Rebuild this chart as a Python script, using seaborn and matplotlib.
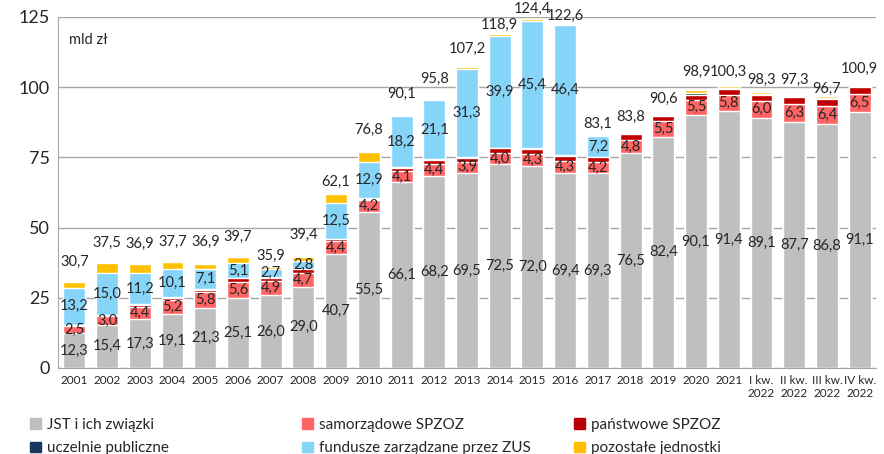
import numpy as np
import pandas as pd
import matplotlib
matplotlib.use("Agg")
import matplotlib.pyplot as plt
from matplotlib.patches import Patch
import seaborn as sns

# categories
years = [str(y) for y in range(2001, 2022)] + ["I kw.\n2022", "II kw.\n2022", "III kw.\n2022", "IV kw.\n2022"]

# mld zł
jst = [12.3, 15.4, 17.3, 19.1, 21.3, 25.1, 26.0, 29.0, 40.7, 55.5, 66.1, 68.2, 69.5, 72.5, 72.0, 69.4,
       69.3, 76.5, 82.4, 90.1, 91.4, 89.1, 87.7, 86.8, 91.1]
samorz = [2.5, 3.0, 4.4, 5.2, 5.8, 5.6, 4.9, 4.7, 4.4, 4.2, 4.1, 4.4, 3.9, 4.0, 4.3, 4.3,
          4.2, 4.8, 5.5, 5.5, 5.8, 6.0, 6.3, 6.4, 6.5]
panstw = [0.5, 0.4, 0.7, 0.8, 0.8, 1.2, 1.3, 1.4, 0.8, 0.6, 1.0, 1.3, 1.3, 1.8, 1.6, 1.8,
          1.6, 1.9, 2.0, 1.8, 2.2, 2.3, 2.4, 2.6, 2.6]
uczelnie = [0.1, 0.1, 0.3, 0.2, 0.2, 0.3, 0.3, 0.3, 0.2, 0.2, 0.3, 0.5, 0.6, 0.2, 0.4, 0.2,
            0.2, 0.1, 0.2, 0.5, 0.2, 0.3, 0.3, 0.4, 0.1]
zus = [13.2, 15.0, 11.2, 10.1, 7.1, 5.1, 2.7, 2.8, 12.5, 12.9, 18.2, 21.1, 31.3, 39.9, 45.4, 46.4,
       7.2, 0, 0, 0, 0, 0, 0, 0, 0]
totals = [30.7, 37.5, 36.9, 37.7, 36.9, 39.7, 35.9, 39.4, 62.1, 76.8, 90.1, 95.8, 107.2, 118.9, 124.4, 122.6,
          83.1, 83.8, 90.6, 98.9, 100.3, 98.3, 97.3, 96.7, 100.9]

# pozostałe = reszta do sumy
pozostale = [round(t - (a + b + c + d + e), 1) for t, a, b, c, d, e in zip(totals, jst, samorz, panstw, uczelnie, zus)]

# label offsets above bars (pixels), as placed in the original
top_off = [20, 20, 20, 20, 22, 20, 11, 22, 12, 22, 21, 20, 18, 9, 10, 8,
           11, 16, 15, 18, 14, 12, 15, 8, 16]

series = [
    ("JST i ich związki", jst, "#BFBFBF"),
    ("samorządowe SPZOZ", samorz, "#FF6565"),
    ("państwowe SPZOZ", panstw, "#C00000"),
    ("uczelnie publiczne", uczelnie, "#17375E"),
    ("fundusze zarządzane przez ZUS", zus, "#87D4F9"),
    ("pozostałe jednostki", pozostale, "#FFC000"),
]

sns.set_style("white")
plt.rcParams["font.family"] = ["Lato", "DejaVu Sans"]

fig = plt.figure(figsize=(8.84, 4.54), dpi=100)
ax = fig.add_axes([58 / 884, 1 - 368 / 454, 818 / 884, 351 / 454])

cum = np.cumsum(np.array([s[1] for s in series]), axis=0)
# draw from the top layer down so lower layers cover upper ones
for i in range(len(series) - 1, -1, -1):
    sns.barplot(x=years, y=cum[i], color=series[i][2], saturation=1, width=0.67, ax=ax, zorder=3)

fmt = lambda v: f"{v:.1f}".replace(".", ",")
fs = 10.5
for i in range(len(years)):
    ax.text(i, jst[i] / 2, fmt(jst[i]), ha="center", va="center", fontsize=fs, zorder=5)
    ax.text(i, jst[i] + samorz[i] / 2, fmt(samorz[i]), ha="center", va="center", fontsize=fs, zorder=5)
    if zus[i] > 0:
        b = jst[i] + samorz[i] + panstw[i] + uczelnie[i]
        ax.text(i, b + zus[i] / 2, fmt(zus[i]), ha="center", va="center", fontsize=fs, zorder=5)
    ax.annotate(fmt(totals[i]), (i, cum[-1][i]), xytext=(0, top_off[i] * 0.72), textcoords="offset points",
                ha="center", va="center", fontsize=fs, annotation_clip=False, zorder=5)

ax.set_ylim(0, 125)
ax.set_xlim(-0.5, len(years) - 0.5)
ax.set_yticks([0, 25, 50, 75, 100, 125])
ax.yaxis.grid(True, color="#A6A6A6", linewidth=1, linestyle="-", zorder=0)
ax.set_axisbelow(True)
for s in ["top", "right"]:
    ax.spines[s].set_visible(False)
ax.spines["left"].set_color("#A6A6A6")
ax.spines["bottom"].set_color("#A6A6A6")
ax.tick_params(axis="y", labelsize=13, length=0, pad=6)
ax.tick_params(axis="x", labelsize=8.5, length=0, pad=5)
ax.set_xticks(np.arange(-0.5, len(years), 1), minor=True)
ax.tick_params(axis="x", which="minor", length=4, color="#A6A6A6", width=1)
ax.set_xlabel("")
ax.set_ylabel("")
ax.text(0.013, 0.955, "mld zł", transform=ax.transAxes, fontsize=10.5, va="top")

# legend: 3 columns, 2 rows
cols = [(30, [0, 3]), (302, [1, 4]), (574, [2, 5])]
for x, idx in cols:
    handles = [Patch(color=series[k][2], label=series[k][0]) for k in idx]
    fig.legend(handles=handles, loc="upper left", bbox_to_anchor=(x / 884, 1 - 418 / 454),
               frameon=False, fontsize=11, handlelength=0.7, handleheight=0.7,
               handletextpad=0.4, borderpad=0, borderaxespad=0, labelspacing=0.62)

fig.savefig("out.png", dpi=100)
